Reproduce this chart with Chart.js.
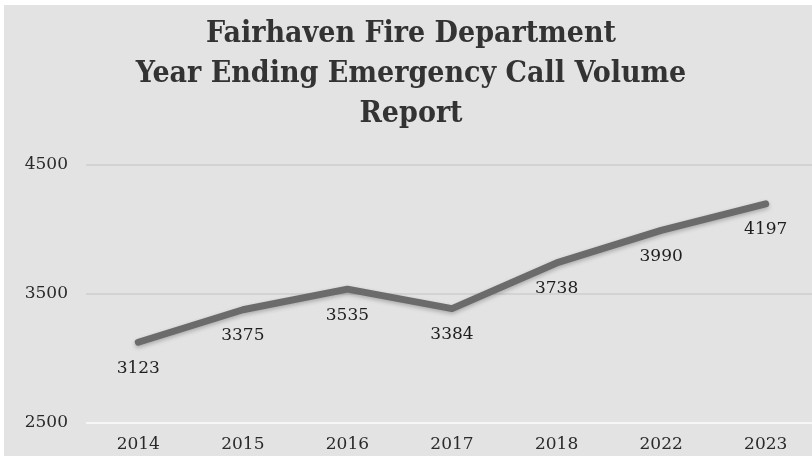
<!DOCTYPE html>
<html>
<head>
<meta charset="utf-8">
<script src="https://cdn.jsdelivr.net/npm/chart.js@4/dist/chart.umd.min.js"></script>
<style>
  html, body { margin: 0; padding: 0; background: #ffffff; overflow: hidden; width: 812px; height: 456px; }
  .chart-container { position: absolute; left: 4px; top: 5px; width: 814px; height: 467px; background: #e3e3e3; }
</style>
</head>
<body>
<div class="chart-container"><canvas id="callChart"></canvas></div>
<script>
// Dati del grafico
const years = ['2014', '2015', '2016', '2017', '2018', '2022', '2023'];
const calls = [3123, 3375, 3535, 3384, 3738, 3990, 4197];
const titleLines = ['Fairhaven Fire Department', 'Year Ending Emergency Call Volume', 'Report'];
const yMin = 2500, yMax = 4500, yStep = 1000;

const serif = "'DejaVu Serif', 'Liberation Serif', serif";

// Etichette dei valori sotto ogni punto
const valueLabels = {
    id: 'valueLabels',
    afterDatasetsDraw(chart) {
        const ctx = chart.ctx;
        const meta = chart.getDatasetMeta(0);
        ctx.save();
        ctx.font = '17px ' + serif;
        ctx.fillStyle = '#1e1e1e';
        ctx.textAlign = 'center';
        ctx.textBaseline = 'middle';
        meta.data.forEach((pt, i) => {
            ctx.fillText(String(calls[i]), pt.x, pt.y + 26);
        });
        ctx.restore();
    }
};

// Ombra leggera sulla linea
const lineShadow = {
    id: 'lineShadow',
    beforeDatasetsDraw(chart) {
        const ctx = chart.ctx;
        ctx.save();
        ctx.shadowColor = 'rgba(0,0,0,0.25)';
        ctx.shadowBlur = 4;
        ctx.shadowOffsetY = 2;
    },
    afterDatasetsDraw(chart) {
        chart.ctx.restore();
    }
};

const ctx = document.getElementById('callChart').getContext('2d');
new Chart(ctx, {
    type: 'line',
    data: {
        labels: years,
        datasets: [{
            data: calls,
            borderColor: '#6b6b6b',
            borderWidth: 7,
            borderCapStyle: 'round',
            borderJoinStyle: 'round',
            pointRadius: 0,
            tension: 0,
            fill: false
        }]
    },
    options: {
        responsive: true,
        maintainAspectRatio: false,
        animation: false,
        layout: { padding: { left: 0, right: 0, top: 0, bottom: 5 } },
        plugins: {
            legend: { display: false },
            tooltip: { enabled: false },
            title: {
                display: true,
                text: titleLines,
                color: '#333333',
                font: { family: "'DejaVu Serif Condensed', 'DejaVu Serif', serif", size: 30, weight: 'bold', lineHeight: 1.33 },
                padding: { top: 9, bottom: 31 }
            }
        },
        scales: {
            x: {
                offset: true,
                grid: { display: false, drawTicks: false },
                border: { display: false },
                ticks: { color: '#2a2a2a', font: { family: serif, size: 17 }, padding: 12 }
            },
            y: {
                min: yMin,
                max: yMax,
                afterFit(scale) { scale.width = 82; },
                border: { display: false },
                grid: {
                    drawTicks: false,
                    lineWidth: 2,
                    color: c => (c.tick && c.tick.value === yMin) ? '#f6f6f6' : '#d3d3d3'
                },
                ticks: {
                    stepSize: yStep,
                    color: '#2a2a2a',
                    font: { family: serif, size: 17 },
                    padding: 18,
                    callback: v => String(v)
                }
            }
        }
    },
    plugins: [lineShadow, valueLabels]
});
</script>
</body>
</html>
